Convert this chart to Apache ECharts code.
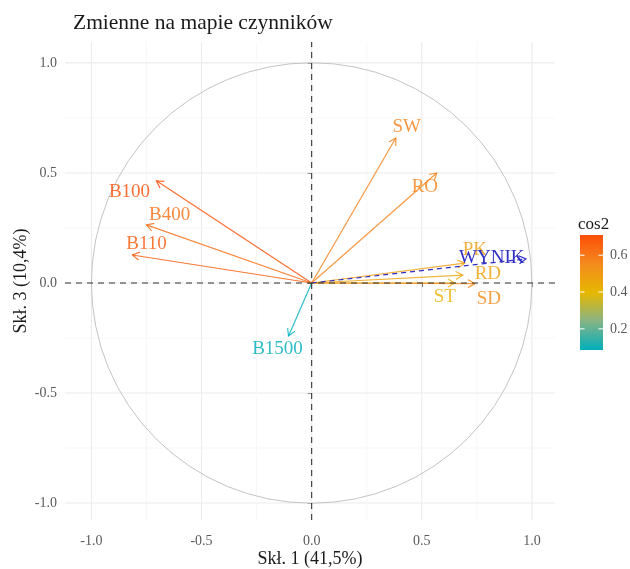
<!DOCTYPE html>
<html><head><meta charset="utf-8">
<script src="https://cdn.jsdelivr.net/npm/echarts@6/dist/echarts.min.js"></script>
<style>html,body{margin:0;padding:0;background:#fff}#c{width:630px;height:569px}</style>
</head><body><div id="c"></div>
<script>
// ---- data ----
const variables = ['SW','RO','B100','B400','B110','B1500','PK','RD','ST','SD'];
const dim1 = [0.382, 0.568, -0.705, -0.750, -0.814, -0.105, 0.695, 0.686, 0.650, 0.741];
const dim3 = [0.659, 0.500, 0.464, 0.264, 0.127, -0.241, 0.090, 0.036, 0.000, -0.003];
const cos2 = [0.58, 0.57, 0.71, 0.63, 0.68, 0.085, 0.49, 0.47, 0.42, 0.55];
const labelX = [0.432, 0.514, -0.827, -0.645, -0.750, -0.155, 0.741, 0.800, 0.605, 0.805];
const labelY = [0.709, 0.436, 0.414, 0.309, 0.177, -0.300, 0.150, 0.041, -0.064, -0.073];
const supNames = ['WYNIK'];
const supDim1 = [0.973];
const supDim3 = [0.109];
const supLabelX = [0.818];
const supLabelY = [0.114];
const majorTicks = [-1, -0.5, 0, 0.5, 1];
const minorTicks = [-0.75, -0.25, 0.25, 0.75];
const legendTicks = [0.2, 0.4, 0.6];
const titleText = 'Zmienne na mapie czynników';
const xTitle = 'Skł. 1 (41,5%)';
const yTitle = 'Skł. 3 (10,4%)';

// ---- layout / style ----
const FONT = '"Liberation Serif", "DejaVu Serif", serif';
const xMin = -1.12, xMax = 1.105, yMin = -1.077, yMax = 1.095;
const cMin = Math.min(...cos2), cMax = Math.max(...cos2);
// teal -> yellow -> red-orange, with intermediate stops approximating a perceptual blend
const gradStops = ['#00AFBB', '#86B385', '#E7B800', '#F48A1E', '#FC4E07'];

function head(o, t, L) {
  const a = Math.atan2(t[1] - o[1], t[0] - o[0]);
  const s = Math.PI / 6;
  return [
    [t[0] - L * Math.cos(a - s), t[1] - L * Math.sin(a - s)],
    [t[0], t[1]],
    [t[0] - L * Math.cos(a + s), t[1] - L * Math.sin(a + s)]
  ];
}

const gridData = [];
majorTicks.forEach(v => { gridData.push([0, v, 1]); gridData.push([1, v, 1]); });
minorTicks.forEach(v => { gridData.push([0, v, 0]); gridData.push([1, v, 0]); });

const arrowData = variables.map((n, i) => [dim1[i], dim3[i], labelX[i], labelY[i], cos2[i]]);
const supData = supNames.map((n, i) => [supDim1[i], supDim3[i], supLabelX[i], supLabelY[i]]);

const chart = echarts.init(document.getElementById('c'), null, {renderer: 'canvas'});
chart.setOption({
  animation: false,
  backgroundColor: '#fff',
  title: {
    text: titleText, left: 68, top: 7,
    textStyle: {fontFamily: FONT, fontSize: 21.5, fontWeight: 'normal', color: '#1a1a1a'}
  },
  grid: [
    {left: 65, right: 75, top: 42, bottom: 49, containLabel: false, outerBoundsMode: 'none'},
    {left: 580, width: 23, top: 235, height: 115, containLabel: false, outerBoundsMode: 'none'}
  ],
  xAxis: [{
    type: 'value', min: xMin, max: xMax,
    axisLine: {show: false}, splitLine: {show: false},
    axisTick: {show: true, customValues: majorTicks, length: 4, lineStyle: {color: '#333', width: 1}},
    axisLabel: {customValues: majorTicks, formatter: v => v.toFixed(1), margin: 14,
      color: '#5a5a5a', fontFamily: FONT, fontSize: 14},
    name: xTitle, nameLocation: 'middle', nameGap: 30, nameMoveOverlap: false,
    nameTextStyle: {fontFamily: FONT, fontSize: 18, color: '#1a1a1a'}
  }, {
    gridIndex: 1, type: 'value', min: 0, max: 1, show: false
  }],
  yAxis: [{
    type: 'value', min: yMin, max: yMax,
    axisLine: {show: false}, splitLine: {show: false},
    axisTick: {show: true, customValues: majorTicks, length: 4, lineStyle: {color: '#333', width: 1}},
    axisLabel: {customValues: majorTicks, formatter: v => v.toFixed(1), margin: 8,
      color: '#5a5a5a', fontFamily: FONT, fontSize: 14},
    name: yTitle, nameLocation: 'middle', nameGap: 35, nameRotate: 90, nameMoveOverlap: false,
    nameTextStyle: {fontFamily: FONT, fontSize: 18, color: '#1a1a1a'}
  }, {
    gridIndex: 1, type: 'value', min: cMin, max: cMax, position: 'right',
    axisLine: {show: false}, axisTick: {show: false}, splitLine: {show: false},
    axisLabel: {customValues: legendTicks, formatter: v => v.toFixed(1), margin: 7,
      color: '#5a5a5a', fontFamily: FONT, fontSize: 14}
  }],
  visualMap: {
    type: 'continuous', show: false, seriesIndex: 2, dimension: 4,
    min: cMin, max: cMax, inRange: {color: gradStops}
  },
  graphic: [{
    type: 'text', left: 578, top: 216,
    style: {text: 'cos2', font: '17px ' + FONT, fill: '#1a1a1a'}
  }],
  series: [
    { // grid lines
      type: 'custom', z: 1, silent: true, data: gridData,
      renderItem: (p, api) => {
        const orient = api.value(0), v = api.value(1), major = api.value(2);
        const a = orient === 0 ? api.coord([v, yMin]) : api.coord([xMin, v]);
        const b = orient === 0 ? api.coord([v, yMax]) : api.coord([xMax, v]);
        return {type: 'line', shape: {x1: a[0], y1: a[1], x2: b[0], y2: b[1]},
          style: {stroke: major ? '#EBEBEB' : '#F5F5F5', lineWidth: major ? 1.1 : 0.8}};
      }
    },
    { // unit circle
      type: 'custom', z: 2, silent: true, data: [[0, 0]],
      renderItem: (p, api) => {
        const c = api.coord([0, 0]);
        const r = api.size([1, 1])[0];
        return {type: 'circle', shape: {cx: c[0], cy: c[1], r: r},
          style: {stroke: '#C4C4C4', lineWidth: 1, fill: null}};
      }
    },
    { // active variables
      type: 'custom', z: 3, silent: true, data: arrowData,
      renderItem: (p, api) => {
        const o = api.coord([0, 0]);
        const t = api.coord([api.value(0), api.value(1)]);
        const l = api.coord([api.value(2), api.value(3)]);
        const col = api.visual('color');
        return {type: 'group', children: [
          {type: 'line', shape: {x1: o[0], y1: o[1], x2: t[0], y2: t[1]},
            style: {stroke: col, lineWidth: 1.2, opacity: 0.82}},
          {type: 'polyline', shape: {points: head(o, t, 8)},
            style: {stroke: col, lineWidth: 1.2, fill: null, opacity: 0.82}},
          {type: 'text', x: l[0], y: l[1],
            style: {text: variables[p.dataIndex], fill: col, font: '19px ' + FONT,
              align: 'center', verticalAlign: 'middle', opacity: 0.82}}
        ]};
      }
    },
    { // supplementary variable
      type: 'custom', z: 4, silent: true, data: supData,
      renderItem: (p, api) => {
        const o = api.coord([0, 0]);
        const t = api.coord([api.value(0), api.value(1)]);
        const l = api.coord([api.value(2), api.value(3)]);
        const col = '#2F2FC4';
        return {type: 'group', children: [
          {type: 'line', shape: {x1: o[0], y1: o[1], x2: t[0], y2: t[1]},
            style: {stroke: col, lineWidth: 1.2, lineDash: [5, 4]}},
          {type: 'polyline', shape: {points: head(o, t, 8)},
            style: {stroke: col, lineWidth: 1.2, fill: null}},
          {type: 'text', x: l[0], y: l[1],
            style: {text: supNames[p.dataIndex], fill: col, font: '19px ' + FONT,
              align: 'center', verticalAlign: 'middle'}}
        ]};
      }
    },
    { // zero reference lines
      type: 'custom', z: 6, silent: true, data: [[0], [1]],
      renderItem: (p, api) => {
        const orient = api.value(0);
        const a = orient === 0 ? api.coord([0, yMin]) : api.coord([xMin, 0]);
        const b = orient === 0 ? api.coord([0, yMax]) : api.coord([xMax, 0]);
        return {type: 'line', shape: {x1: a[0], y1: a[1], x2: b[0], y2: b[1]},
          style: {stroke: '#333', lineWidth: 1.1, lineDash: [6, 5]}};
      }
    },
    { // colour bar legend
      type: 'custom', xAxisIndex: 1, yAxisIndex: 1, z: 2, silent: true, data: [[0, cMin]],
      renderItem: (p, api) => {
        const tl = api.coord([0, cMax]);
        const br = api.coord([1, cMin]);
        const n = gradStops.length;
        const stops = gradStops.map((c, i) => ({offset: i / (n - 1), color: gradStops[n - 1 - i]}));
        const children = [{
          type: 'rect',
          shape: {x: tl[0], y: tl[1], width: br[0] - tl[0], height: br[1] - tl[1]},
          style: {fill: new echarts.graphic.LinearGradient(0, 0, 0, 1, stops)}
        }];
        legendTicks.forEach(v => {
          const a = api.coord([0, v]), b = api.coord([1, v]);
          const w = (b[0] - a[0]) / 5;
          children.push({type: 'line', shape: {x1: a[0], y1: a[1], x2: a[0] + w, y2: a[1]},
            style: {stroke: '#fff', lineWidth: 1}});
          children.push({type: 'line', shape: {x1: b[0] - w, y1: b[1], x2: b[0], y2: b[1]},
            style: {stroke: '#fff', lineWidth: 1}});
        });
        return {type: 'group', children};
      }
    }
  ]
});
</script>
</body></html>
